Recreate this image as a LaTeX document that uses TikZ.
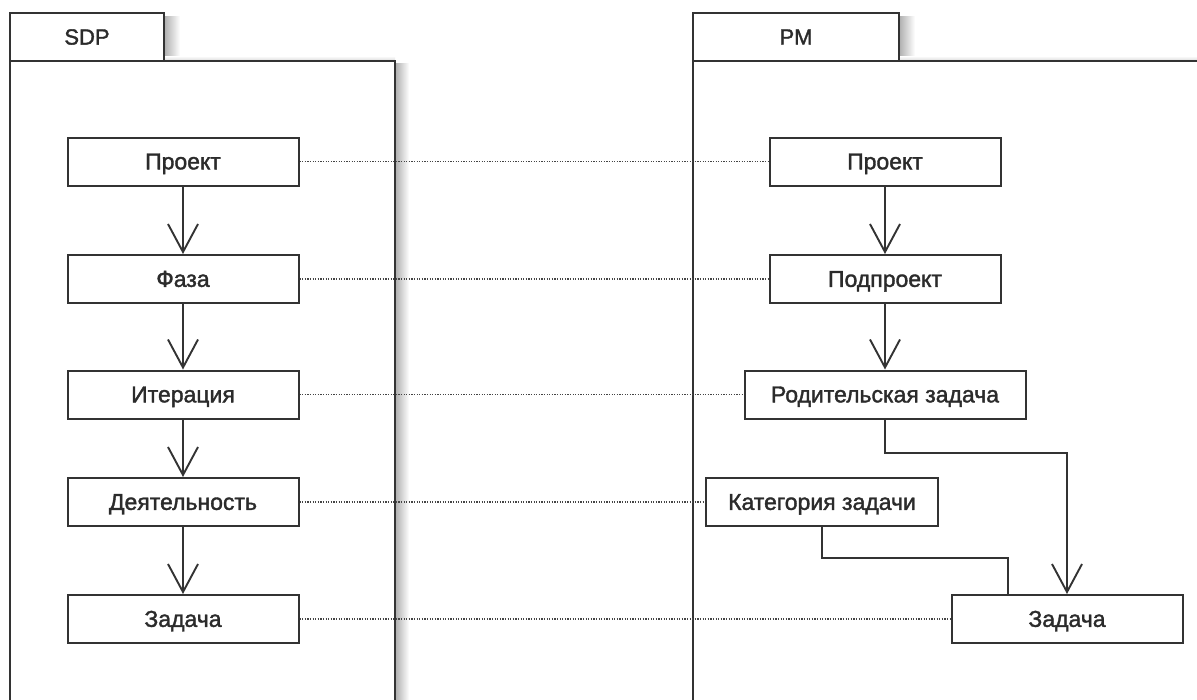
\documentclass[tikz,border=0pt]{standalone}
\usepackage{fontspec}
\setmainfont{Liberation Sans}
\newfontfamily\boxfont[FakeBold=1.6]{Liberation Sans}
\usetikzlibrary{arrows.meta}
\definecolor{ln}{HTML}{333333}
\definecolor{tx}{HTML}{2b2b2b}
\definecolor{dt}{HTML}{444444}
\tikzset{
  box/.style={draw=ln, line width=2pt, fill=white, minimum height=48pt, inner sep=0pt, text=tx, text height=19pt, text depth=3.3pt, font=\boxfont\fontsize{23}{27}\selectfont},
  flow/.style={draw=ln, line width=2pt},
  arr/.style={flow, -{Straight Barb[length=28pt,width=30pt,line width=1.9pt]}},
  trace/.style={draw=dt, line width=1.3pt, dash pattern=on 1.3pt off 1.3pt},
  pkg/.style={draw=ln, line width=2pt, fill=white},
  lbl/.style={text=tx, font=\boxfont\fontsize{22}{26}\selectfont, inner sep=0pt}
}
\begin{document}
\begin{tikzpicture}[x=1pt,y=-1pt]
\useasboundingbox (0,0) rectangle (1197,699);
% shadows
\shade[left color=black!30, right color=white] (396,63) rectangle (409,699);
\shade[left color=black!30, right color=white] (165,16) rectangle (180,61);
\shade[top color=white, bottom color=black!12] (165,56) rectangle (395,60);
\shade[left color=black!30, right color=white] (900,16) rectangle (915,61);
\shade[top color=white, bottom color=black!12] (900,56) rectangle (1197,60);
% packages
\draw[pkg] (10,13) rectangle (164,61);
\draw[pkg] (10,61) rectangle (395,705);
\draw[pkg] (693,13) rectangle (899,61);
\draw[pkg] (693,61) rectangle (1205,705);
\node[lbl] (sdp) at (87,37) {SDP};
\node[lbl] (pm) at (796,37) {PM};
% left nodes
\node[box, minimum width=231pt] (l1) at (183,161.5) {Проект};
\node[box, minimum width=231pt] (l2) at (183,279) {Фаза};
\node[box, minimum width=231pt] (l3) at (183,394.5) {Итерация};
\node[box, minimum width=231pt] (l4) at (183,502) {Деятельность};
\node[box, minimum width=231pt] (l5) at (183,619) {Задача};
% right nodes
\node[box, minimum width=231pt] (r1) at (885,161.5) {Проект};
\node[box, minimum width=231pt] (r2) at (885,279) {Подпроект};
\node[box, minimum width=281pt] (r3) at (885,394.5) {Родительская задача};
\node[box, minimum width=232pt] (r4) at (822,502) {Категория задачи};
\node[box, minimum width=231pt] (r5) at (1067,619) {Задача};
% dotted traces
\draw[trace] (l1.east) -- (r1.west);
\draw[trace] (l2.east) -- (r2.west);
\draw[trace] (l3.east) -- (r3.west);
\draw[trace] (l4.east) -- (r4.west);
\draw[trace] (l5.east) -- (r5.west);
% arrows
\draw[arr] (l1.south) -- (l2.north);
\draw[arr] (l2.south) -- (l3.north);
\draw[arr] (l3.south) -- (l4.north);
\draw[arr] (l4.south) -- (l5.north);
\draw[arr] (r1.south) -- (r2.north);
\draw[arr] (r2.south) -- (r3.north);
\draw[arr] (r3.south) -- ++(0,33) -| (r5.north);
\draw[flow] (r4.south) -- ++(0,31) -| ([xshift=57.5pt]r5.north west);
\end{tikzpicture}
\end{document}
